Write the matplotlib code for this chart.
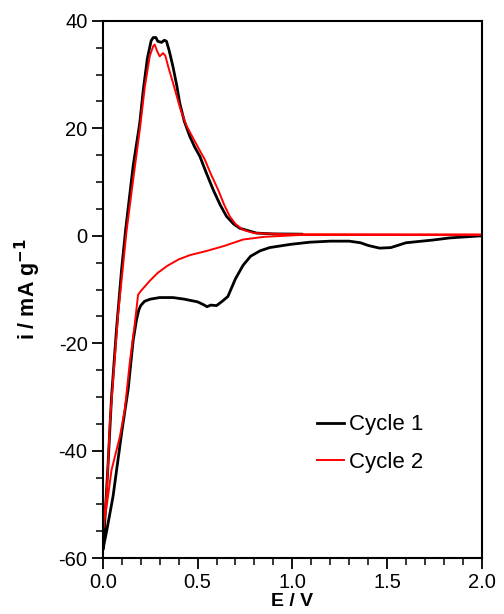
import matplotlib
matplotlib.use("Agg")
import matplotlib.pyplot as plt
from matplotlib.ticker import MultipleLocator

plt.rcParams['font.family'] = ['Liberation Sans', 'DejaVu Sans']
plt.rcParams['axes.unicode_minus'] = False

# cycle 1: cathodic sweep 2.0 -> 0 V, then anodic sweep back
c1_cath_E = [2.00, 1.83, 1.74, 1.60, 1.52, 1.46, 1.40, 1.36, 1.30, 1.20, 1.09, 0.99,
             0.88, 0.83, 0.78, 0.74, 0.70, 0.66, 0.63, 0.60, 0.57, 0.55, 0.53, 0.50,
             0.43, 0.37, 0.30, 0.25, 0.22, 0.20, 0.19, 0.178, 0.16, 0.134, 0.10,
             0.054, 0.02, 0.0]
c1_cath_i = [0.0, -0.4, -0.8, -1.3, -2.2, -2.3, -1.8, -1.3, -1.0, -1.0, -1.2, -1.6,
             -2.2, -2.8, -3.8, -5.5, -8.0, -11.3, -12.2, -13.0, -12.9, -13.2, -12.8, -12.3,
             -11.8, -11.5, -11.5, -11.8, -12.2, -13.0, -13.8, -15.6, -19.5, -28.5, -36.5,
             -48.5, -55.0, -58.5]
c1_anod_E = [0.0, 0.01, 0.028, 0.046, 0.072, 0.099, 0.12, 0.14, 0.16, 0.195, 0.213,
             0.235, 0.255, 0.266, 0.28, 0.29, 0.31, 0.325, 0.336, 0.35, 0.37, 0.39,
             0.406, 0.43, 0.459, 0.485, 0.512, 0.545, 0.582, 0.62, 0.653, 0.69, 0.723,
             0.811, 0.90, 1.05]
c1_anod_i = [-58.5, -53.5, -42.3, -30.0, -17.5, -6.3, 1.0, 7.0, 13.0, 21.0, 27.0,
             33.0, 36.3, 36.9, 36.9, 36.2, 36.0, 36.4, 36.2, 34.5, 31.5, 28.0,
             24.7, 21.3, 18.5, 16.5, 14.8, 11.8, 8.6, 5.7, 3.6, 2.2, 1.4,
             0.5, 0.35, 0.3]

# cycle 2
c2_cath_E = [2.00, 1.04, 0.85, 0.74, 0.64, 0.55, 0.46, 0.40, 0.34, 0.29, 0.25, 0.20,
             0.186, 0.169, 0.142, 0.116, 0.09, 0.046, 0.02, 0.0]
c2_cath_i = [0.2, 0.15, -0.2, -0.7, -1.9, -2.8, -3.6, -4.4, -5.6, -6.9, -8.3, -10.3,
             -11.0, -16.3, -23.7, -32.4, -37.4, -43.6, -50.4, -55.0]
c2_anod_E = [0.0, 0.02, 0.028, 0.037, 0.054, 0.081, 0.107, 0.125, 0.16, 0.195, 0.222,
             0.248, 0.266, 0.274, 0.285, 0.30, 0.318, 0.33, 0.345, 0.37, 0.39, 0.406,
             0.44, 0.476, 0.505, 0.538, 0.57, 0.608, 0.64, 0.67, 0.70, 0.74, 0.80,
             0.95, 2.0]
c2_anod_i = [-55.0, -48.0, -42.3, -35.0, -27.0, -14.5, -5.5, 0.8, 10.4, 19.7, 27.8,
             33.5, 35.3, 35.6, 34.5, 33.4, 34.0, 33.5, 31.5, 28.5, 26.0, 24.0,
             20.6, 18.2, 16.3, 14.2, 11.5, 8.6, 5.8, 3.6, 2.2, 1.1, 0.5,
             0.3, 0.2]

fig = plt.figure(figsize=(5.04, 6.14), dpi=100)
ax = fig.add_axes([0.204, 0.091, 0.752, 0.875])

ax.plot(c1_cath_E + c1_anod_E, c1_cath_i + c1_anod_i, color='black', lw=2.0,
        label='Cycle 1')
ax.plot(c2_cath_E + c2_anod_E, c2_cath_i + c2_anod_i, color='red', lw=1.4,
        label='Cycle 2')

ax.set_xlim(0, 2.0)
ax.set_ylim(-60, 40)
ax.xaxis.set_major_locator(MultipleLocator(0.5))
ax.xaxis.set_minor_locator(MultipleLocator(0.1))
ax.yaxis.set_major_locator(MultipleLocator(20))
ax.yaxis.set_minor_locator(MultipleLocator(5))
ax.xaxis.set_major_formatter(plt.FormatStrFormatter('%.1f'))
ax.tick_params(which='major', direction='out', length=8, width=1.3, labelsize=14.5,
               top=False, right=False)
ax.tick_params(axis='x', which='major', pad=3)
ax.tick_params(axis='y', which='major', pad=3)
ax.tick_params(which='minor', direction='out', length=5, width=1.1,
               top=False, right=False)
for s in ax.spines.values():
    s.set_linewidth(1.5)

ax.set_xlabel('E / V', fontsize=14, fontweight='bold')
ax.xaxis.set_label_coords(0.5, -0.0655)
ax.set_ylabel('i / mA g$^{\\mathbf{-1}}$', fontsize=15.5, fontweight='bold', labelpad=11)

ax.legend(loc='center left', bbox_to_anchor=(0.565, 0.213), frameon=False,
          fontsize=16, handlelength=1.2, handletextpad=0.22, labelspacing=0.75,
          borderpad=0, borderaxespad=0)

fig.savefig('out.png', dpi=100)
